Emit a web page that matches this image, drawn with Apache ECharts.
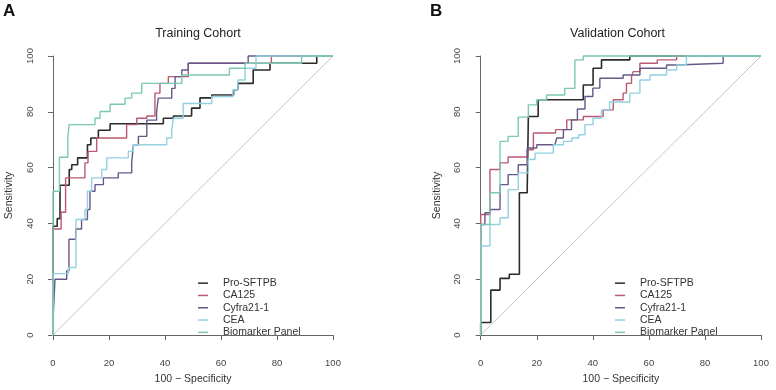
<!DOCTYPE html>
<html><head><meta charset="utf-8">
<script src="https://cdn.jsdelivr.net/npm/echarts@6/dist/echarts.min.js"></script>
<style>html,body{margin:0;padding:0;background:#fff}#c{width:776px;height:390px}</style>
</head><body><div id="c"></div>
<script>
// ---- data (x = 100 - Specificity, y = Sensitivity); each point = top of a vertical rise ----
const seriesNames = ['Pro-SFTPB', 'CA125', 'Cyfra21-1', 'CEA', 'Biomarker Panel'];
const seriesColors = ['#2b2b2b', '#bb5a70', '#66598a', '#93d1e1', '#7cc8b4'];
const panelTitles = ['Training Cohort', 'Validation Cohort'];
const panelLetters = ['A', 'B'];
const xTitle = '100 \u2212 Specificity';
const yTitle = 'Sensitivity';
const refLine = [[-3, -3], [100, 100]];

const trainPro = [[0,0],[0,39],[1.5,41.7],[2.5,53.7],[5.8,59.3],[6.7,61],[8.8,63.5],[12.3,68.2],[13.5,70.6],[16.2,73.4],[20.4,75.7],[39.4,77.7],[43,78.5],[49.5,81.3],[52.5,85],[56.7,86],[64.5,87.9],[66,90.2],[71.5,95],[77.5,97.4],[94.2,100],[100,100]];
const trainCA125 = [[0,0],[0,38],[2.9,44],[4.5,56.3],[11.4,61.7],[12.5,65.8],[15.6,70.6],[26.3,75.4],[29.9,77.7],[33.5,78.5],[36.4,86.7],[38.2,90.2],[41.2,92.6],[48.3,97.4],[78,100],[100,100]];
const trainCyfra = [[0,0],[0,5],[0.7,20],[4.9,23],[5.7,34.3],[8.1,38],[10.2,41.4],[12.3,45],[13.2,51.5],[15,53.9],[18,56.3],[23.3,58.1],[28.1,61.7],[28.7,68.2],[30.5,71.2],[33.5,77],[37,80.1],[37.6,84.9],[42.4,88.4],[43.6,92.6],[46,95],[48.3,97.4],[69.7,100],[100,100]];
const trainCEA = [[0,0],[0,22],[5.5,24.2],[8.2,41.4],[11.4,45],[12.3,51.5],[13.8,56.3],[17.4,59.3],[19.2,63.5],[26.9,65.8],[28.7,68.2],[40.6,70.6],[42.4,73.6],[43,77.7],[46.5,83],[56.7,85.5],[64.3,87.9],[66,91.4],[68.6,95.6],[72.5,100],[100,100]];
const trainPanel = [[0,0],[0,51.5],[2.3,63.7],[5.3,71.2],[5.8,75.4],[15,77.7],[16.8,80.1],[20.4,82.7],[25.7,84.9],[28.1,86.7],[31.7,90.2],[46,93.2],[63,95.6],[68.6,97.4],[88.8,100],[100,100]];

const valPro = [[0,0],[0,4.5],[3.6,16.1],[6.9,20.3],[10.2,21.8],[13.8,51],[16.6,52.7],[17,78.3],[20.5,84.3],[36.6,89.6],[40.1,95.6],[43.1,98.6],[53.2,100],[100,100]];
const valCA125 = [[0,0],[0,43.2],[3.3,59.3],[6.9,61.7],[9.8,63.8],[16.6,66.4],[18.8,72.4],[26.7,73.6],[30.7,77.1],[36.6,78.3],[43.7,80.7],[47.3,84.3],[50.8,86.7],[52,90.2],[53.8,92.6],[54.4,94.4],[56.8,97.4],[63,98.6],[69.9,100],[100,100]];
const valCyfra = [[0,0],[0,39.6],[1.5,43.8],[3.3,45],[6.9,53.9],[9.8,57.5],[13.4,61],[16.6,67],[20,68.2],[26.5,68.8],[27.1,70.6],[29.5,73.6],[32.4,77.1],[34.5,81],[37.2,85.5],[40,88.5],[42.5,92],[50.8,93.2],[56.8,95.6],[66.3,96.8],[69.9,97.4],[86.5,100],[100,100]];
const valCEA = [[0,0],[0,31.9],[3.3,39.6],[6.9,42],[9.8,52.1],[13.4,58.1],[17,62.9],[19.4,65.2],[25.9,68.2],[29.5,69.4],[32.5,70.6],[35,71.8],[37.2,75.4],[40.1,77.7],[43.1,80.7],[46,83.5],[53.2,86.7],[56.8,91.4],[60.4,93.2],[66.3,95],[69.9,96.8],[73.4,100],[100,100]];
const valPanel = [[0,0],[0,39.6],[3.3,51],[6.9,69.4],[9.8,71.2],[13.4,78.1],[17,82.5],[20,84.3],[23.5,86],[30,88.4],[33.6,98.6],[36.6,100],[100,100]];

const panels = [
  [trainPro, trainCA125, trainCyfra, trainCEA, trainPanel],
  [valPro, valCA125, valCyfra, valCEA, valPanel]
];

const FONT = 'Liberation Sans, Arial, sans-serif';
const chart = echarts.init(document.getElementById('c'), null, {renderer: 'canvas'});

const grids = [
  {left: 53, top: 56, width: 280, height: 280},
  {left: 480.7, top: 56, width: 280.3, height: 280}
];
const axisCommon = {
  type: 'value', min: 0, max: 100, interval: 20, offset: 11,
  axisLine: {show: true, lineStyle: {color: '#666', width: 1}},
  axisTick: {show: true, length: 5, lineStyle: {color: '#666', width: 1}},
  splitLine: {show: false},
  nameLocation: 'middle',
  nameTextStyle: {fontSize: 10.5, color: '#333', fontFamily: FONT}
};
const xAxes = [], yAxes = [], series = [], legends = [], graphics = [];
for (let p = 0; p < 2; p++) {
  xAxes.push(Object.assign({}, axisCommon, {
    gridIndex: p, name: xTitle, nameGap: 28,
    axisLabel: {color: '#444', fontSize: 9.5, margin: 12, fontFamily: FONT}
  }));
  yAxes.push(Object.assign({}, axisCommon, {
    gridIndex: p, name: yTitle, nameGap: 27,
    axisLabel: {color: '#444', fontSize: 9.5, margin: 7, rotate: 90, fontFamily: FONT}
  }));
  series.push({
    type: 'line', xAxisIndex: p, yAxisIndex: p, data: refLine, symbol: 'none', clip: false,
    silent: true, lineStyle: {color: '#c4c4c4', width: 1}, z: 1
  });
  panels[p].forEach((d, i) => {
    series.push({
      name: seriesNames[i], type: 'line', xAxisIndex: p, yAxisIndex: p, data: d,
      step: 'end', symbol: 'none', clip: false, z: 2 + i,
      lineStyle: {color: seriesColors[i], width: i === 0 ? 1.6 : 1.4},
      itemStyle: {color: seriesColors[i]},
      emphasis: {disabled: true}
    });
  });
  legends.push({
    left: p === 0 ? 198 : 615, top: 277, orient: 'vertical', padding: 0,
    icon: 'rect', itemWidth: 10, itemHeight: 1.5, itemGap: 0,
    selectedMode: false,
    textStyle: {fontSize: 10.5, lineHeight: 12.3, color: '#333', padding: [0, 0, 0, 10], fontFamily: FONT},
    data: seriesNames
  });
}
graphics.push(
  {type: 'text', left: 3, top: 3, style: {text: panelLetters[0], font: 'bold 17px ' + FONT, fill: '#111'}},
  {type: 'text', left: 430, top: 3, style: {text: panelLetters[1], font: 'bold 17px ' + FONT, fill: '#111'}},
  {type: 'text', x: 198, y: 34, style: {text: panelTitles[0], font: '12.5px ' + FONT, fill: '#222', textAlign: 'center', textVerticalAlign: 'middle'}},
  {type: 'text', x: 617.5, y: 34, style: {text: panelTitles[1], font: '12.5px ' + FONT, fill: '#222', textAlign: 'center', textVerticalAlign: 'middle'}}
);

chart.setOption({
  animation: false,
  textStyle: {fontFamily: FONT},
  grid: grids,
  xAxis: xAxes,
  yAxis: yAxes,
  legend: legends,
  series: series,
  graphic: graphics
});
</script></body></html>
